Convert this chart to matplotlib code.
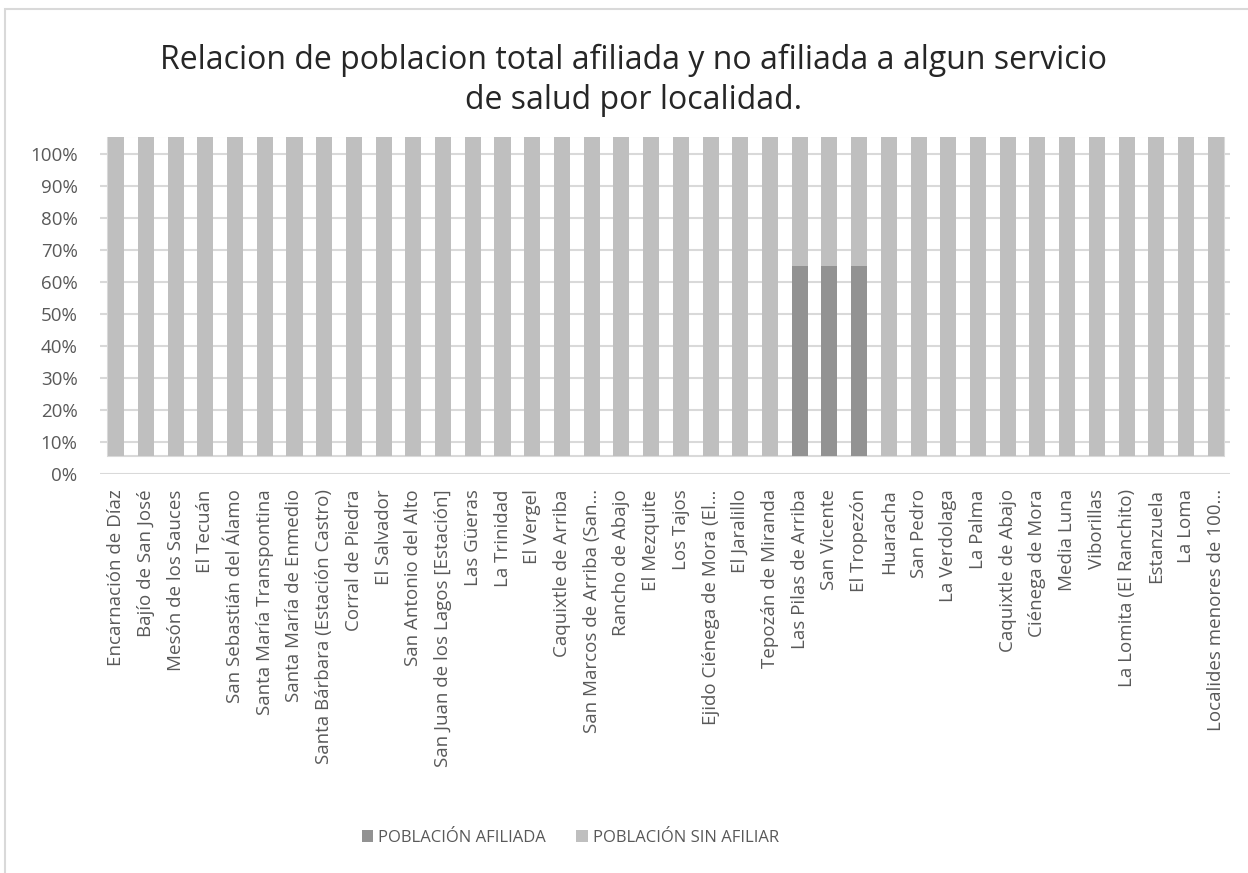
import numpy as np
import matplotlib.pyplot as plt
from matplotlib.patches import Rectangle
from matplotlib.ticker import PercentFormatter

# Localidades
localidades = [
    "Encarnación de Díaz", "Bajío de San José", "Mesón de los Sauces", "El Tecuán",
    "San Sebastián del Álamo", "Santa María Transpontina", "Santa María de Enmedio",
    "Santa Bárbara (Estación Castro)", "Corral de Piedra", "El Salvador",
    "San Antonio del Alto", "San Juan de los Lagos [Estación]", "Las Güeras",
    "La Trinidad", "El Vergel", "Caquixtle de Arriba", "San Marcos de Arriba (San...",
    "Rancho de Abajo", "El Mezquite", "Los Tajos", "Ejido Ciénega de Mora (El...",
    "El Jaralillo", "Tepozán de Miranda", "Las Pilas de Arriba", "San Vicente",
    "El Tropezón", "Huaracha", "San Pedro", "La Verdolaga", "La Palma",
    "Caquixtle de Abajo", "Ciénega de Mora", "Media Luna", "Viborillas",
    "La Lomita (El Ranchito)", "Estanzuela", "La Loma", "Localides menores de 100...",
]

# fraccion de poblacion afiliada por localidad
afiliada = [0.0] * 23 + [0.595, 0.595, 0.595] + [0.0] * 12
sin_afiliar = [1 - a for a in afiliada]

# la imagen original tiene las barras desplazadas hacia arriba
desplazamiento = 0.056

plt.rcParams['font.family'] = ['Open Sans', 'DejaVu Sans']

fig = plt.figure(figsize=(12.48, 8.73), dpi=100)
ax = fig.add_axes([0.080, 0.457, 0.9056, 0.386])

x = np.arange(len(localidades))
ancho = 0.54
base = np.full(len(x), desplazamiento)
ax.bar(x, afiliada, ancho, bottom=base, color='#929292', zorder=3,
       label='POBLACIÓN AFILIADA')
ax.bar(x, sin_afiliar, ancho, bottom=base + np.array(afiliada), color='#bfbfbf',
       zorder=3, label='POBLACIÓN SIN AFILIAR')

# marco gris alrededor de las barras
ax.add_patch(Rectangle((x[0] - ancho / 2, desplazamiento), x[-1] - x[0] + ancho, 1.0,
                       fill=False, edgecolor='#d9d9d9', linewidth=1.5, zorder=2))

ax.set_xlim(-0.55, len(x) - 0.52)
ax.set_ylim(0, 1.053)
ax.set_yticks(np.arange(0, 1.01, 0.1))
ax.yaxis.set_major_formatter(PercentFormatter(1.0, decimals=0))
ax.grid(axis='y', color='#d9d9d9', linewidth=1.5, zorder=1)
ax.set_axisbelow(True)
for s in ax.spines.values():
    s.set_visible(False)

ax.set_xticks(x)
ax.set_xticklabels(localidades, rotation=90, ha='center', va='top')
ax.tick_params(axis='x', length=0, pad=11, labelsize=13.5, labelcolor='#595959')
ax.tick_params(axis='y', length=0, pad=16, labelsize=13.5, labelcolor='#595959')

fig.text(0.508, 0.908, 'Relacion de poblacion total afiliada y no afiliada a algun servicio\nde salud por localidad.',
         ha='center', va='center', fontsize=23, color='#262626', linespacing=1.25)

fig.legend(loc='center', bbox_to_anchor=(0.457, 0.04), ncol=2, frameon=False,
           fontsize=12, labelcolor='#595959', handlelength=0.7, handleheight=0.7,
           handletextpad=0.3, columnspacing=1.8)

# borde del grafico
fig.patches.append(Rectangle((0.004, -0.01), 1.0, 1.0, transform=fig.transFigure,
                             fill=False, edgecolor='#d9d9d9', linewidth=1.5))

plt.savefig('out.png', dpi=100)
